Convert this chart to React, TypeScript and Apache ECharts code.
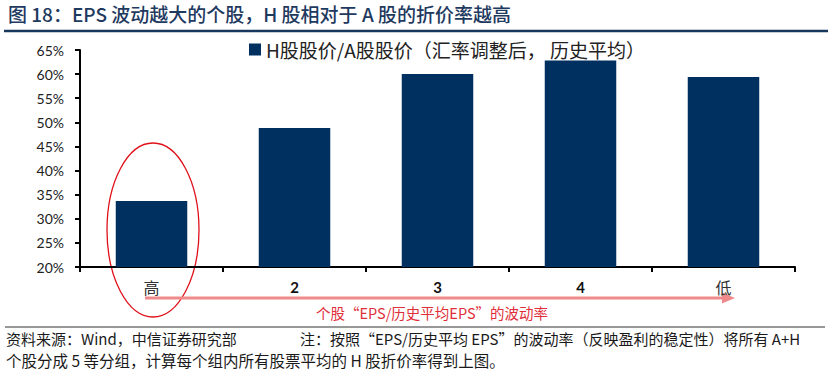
import React, { useEffect, useRef } from "react";
import * as echarts from "echarts";

const categories = ["高", "2", "3", "4", "低"];
const seriesName = "H股股价/A股股价（汇率调整后， 历史平均）";
const values = [33.7, 48.8, 60.0, 62.8, 59.4];
const yMin = 20;
const yMax = 65;
const yStep = 5;

const titleText = "图 18：EPS 波动越大的个股，H 股相对于 A 股的折价率越高";
const arrowText = "个股“EPS/历史平均EPS”的波动率";
const sourceText = "资料来源：Wind，中信证券研究部";
const noteLine1 = "注：按照“EPS/历史平均 EPS”的波动率（反映盈利的稳定性）将所有 A+H";
const noteLine2 = "个股分成 5 等分组，计算每个组内所有股票平均的 H 股折价率得到上图。";

const NAVY = "#00305f";
const CJK = "'Noto Sans CJK SC', 'Liberation Sans', sans-serif";

export default function App() {
  const ref = useRef<HTMLDivElement>(null);
  useEffect(() => {
    document.body.style.margin = "0";
    const chart = echarts.init(ref.current!, null, { renderer: "svg" });
    chart.setOption({
      animation: false,
      backgroundColor: "#ffffff",
      grid: { left: 80, right: 40, top: 50, bottom: 111 },
      legend: {
        show: true,
        left: 244,
        top: 35,
        itemWidth: 12,
        itemHeight: 12,
        icon: "rect",
        itemGap: 4,
        textStyle: { fontSize: 19, color: "#222", fontFamily: CJK },
        data: [seriesName],
      },
      xAxis: {
        type: "category",
        data: categories,
        axisLine: { lineStyle: { color: "#000", width: 2 } },
        axisTick: { show: true, length: 5, lineStyle: { color: "#000", width: 2 } },
        axisLabel: {
          margin: 12,
          formatter: (v: string) => (/^\d+$/.test(v) ? `{num|${v}}` : `{cjk|${v}}`),
          rich: {
            num: {
              fontSize: 15,
              fontWeight: "bold",
              color: "#111",
              fontFamily: "Lato, 'Open Sans', sans-serif",
            },
            cjk: {
              fontSize: 16,
              fontWeight: "normal",
              color: "#333",
              fontFamily: CJK,
            },
          },
        },
      },
      yAxis: {
        type: "value",
        min: yMin,
        max: yMax,
        interval: yStep,
        splitLine: { show: false },
        axisLine: { show: true, lineStyle: { color: "#000", width: 2 } },
        axisTick: { show: true, length: 5, lineStyle: { color: "#000", width: 2 } },
        axisLabel: {
          formatter: "{value}%",
          fontSize: 14,
          color: "#222",
          margin: 16,
          fontFamily: "Lato, 'Open Sans', sans-serif",
        },
      },
      series: [
        {
          name: seriesName,
          type: "bar",
          data: values,
          barWidth: "50%",
          itemStyle: { color: NAVY },
        },
      ],
      graphic: [
        {
          type: "text",
          left: 8,
          top: 4,
          style: {
            text: titleText,
            fontSize: 19,
            fontWeight: 500,
            fill: "#1f3a5f",
            fontFamily: CJK,
          },
        },
        {
          type: "line",
          shape: { x1: 4, y1: 31, x2: 828, y2: 31 },
          style: { stroke: "#17375e", lineWidth: 2.5 },
        },
        {
          type: "ellipse",
          shape: { cx: 153, cy: 230, rx: 46, ry: 87 },
          style: { fill: "none", stroke: "#e0101a", lineWidth: 1.3 },
        },
        {
          type: "line",
          shape: { x1: 145, y1: 298, x2: 724, y2: 298 },
          style: { stroke: "#f08a8a", lineWidth: 3 },
        },
        {
          type: "polygon",
          shape: { points: [[722, 292.5], [735, 298], [722, 303.5]] },
          style: { fill: "#f08a8a" },
        },
        {
          type: "text",
          x: 432,
          y: 312,
          style: {
            text: arrowText,
            fontSize: 14.5,
            fill: "#e0303a",
            fontFamily: CJK,
            align: "center",
            verticalAlign: "middle",
          },
        },
        {
          type: "line",
          shape: { x1: 5, y1: 327, x2: 825, y2: 327 },
          style: { stroke: "#333", lineWidth: 1 },
        },
        {
          type: "text",
          left: 6,
          top: 331,
          style: { text: sourceText, fontSize: 15, fill: "#1a1a1a", fontFamily: CJK },
        },
        {
          type: "text",
          left: 300,
          top: 331,
          style: { text: noteLine1, fontSize: 15, fill: "#1a1a1a", fontFamily: CJK },
        },
        {
          type: "text",
          left: 6,
          top: 352,
          style: { text: noteLine2, fontSize: 15.5, fill: "#1a1a1a", fontFamily: CJK },
        },
      ],
    });
    return () => chart.dispose();
  }, []);
  return (
    <div
      ref={ref}
      style={{ position: "absolute", left: 0, top: 0, width: 835, height: 378 }}
    />
  );
}
